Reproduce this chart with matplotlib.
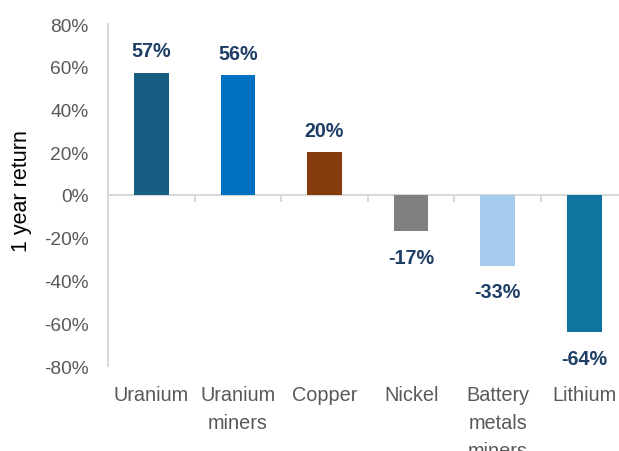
import matplotlib
matplotlib.use("Agg")
import matplotlib.pyplot as plt
import matplotlib.transforms as mtransforms
from matplotlib.ticker import FixedLocator, PercentFormatter

categories = ["Uranium", "Uranium\nminers", "Copper", "Nickel", "Battery\nmetals\nminers", "Lithium"]
returns = [0.57, 0.56, 0.20, -0.17, -0.33, -0.64]
colors = ["#175f82", "#0070c0", "#843c0c", "#808080", "#a6caec", "#0f75a0"]
y_ticks = [-0.8, -0.6, -0.4, -0.2, 0.0, 0.2, 0.4, 0.6, 0.8]

plt.rcParams["font.family"] = ["Liberation Sans", "DejaVu Sans"]
plt.rcParams["axes.unicode_minus"] = False

fig = plt.figure(figsize=(6.19, 4.52), dpi=100)
ax = fig.add_axes([108 / 619, 85 / 452, 1 - 108 / 619, 342 / 452])

x = list(range(len(categories)))
ax.bar(x, returns, width=0.40, color=colors, zorder=3)

ax.set_xlim(-0.5, 5.4)
ax.set_ylim(-0.8, 0.8)

# Axis styling: light grey left spine, category axis drawn at zero
grey = "#d9d9d9"
for side in ("top", "right"):
    ax.spines[side].set_visible(False)
ax.spines["left"].set_color(grey)
ax.spines["left"].set_linewidth(1.5)
ax.spines["bottom"].set_position(("data", 0))
ax.spines["bottom"].set_color(grey)
ax.spines["bottom"].set_linewidth(1.5)
ax.spines["bottom"].set_zorder(2)

ax.set_yticks(y_ticks)
ax.yaxis.set_major_formatter(PercentFormatter(1.0, decimals=0))
ax.tick_params(axis="y", length=0, pad=14, labelsize=13.8, labelcolor="#595959")

ax.set_xticks([])
ax.xaxis.set_minor_locator(FixedLocator([i + 0.5 for i in x[:-1]]))
ax.tick_params(axis="x", which="minor", length=5, width=1.5, color=grey, direction="out")

# Category labels sit below the plot area
trans = mtransforms.blended_transform_factory(ax.transData, ax.transAxes)
for xi, name in zip(x, categories):
    ax.text(xi, -0.055, name, transform=trans, ha="center", va="top",
            fontsize=14.3, color="#595959", linespacing=1.6)

# Value labels
for xi, v in zip(x, returns):
    off = 16 if v >= 0 else -19
    ax.annotate(f"{round(v * 100):d}%", (xi, v), xytext=(0, off), textcoords="offset points",
                ha="center", va="center", fontsize=14.2, fontweight="bold", color="#1f3e66")

ax.set_ylabel("1 year return", fontsize=15.5, color="#000000")
ax.yaxis.set_label_coords(-(108 - 32) / 511, 176 / 342)

fig.savefig("out.png", dpi=100)
